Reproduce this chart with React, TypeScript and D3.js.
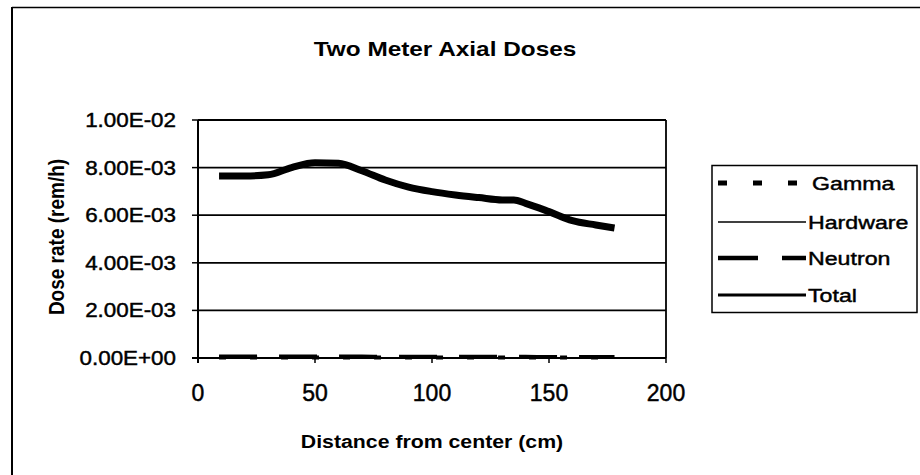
import React from "react";
import * as d3 from "d3";

const distances = [9, 20, 30, 40, 50, 60, 70, 80, 90, 100, 110, 120, 130, 135, 140, 150, 160, 170, 178];
const totalDose = [7.65e-3, 7.65e-3, 7.7e-3, 8.0e-3, 8.2e-3, 8.18e-3, 7.87e-3, 7.48e-3, 7.18e-3, 6.99e-3, 6.85e-3, 6.74e-3, 6.64e-3, 6.64e-3, 6.5e-3, 6.15e-3, 5.77e-3, 5.59e-3, 5.46e-3];
const neutronDose = [6e-5, 6e-5, 6e-5, 6e-5, 6e-5, 6e-5, 6e-5, 5e-5, 5e-5, 5e-5, 5e-5, 5e-5, 5e-5, 5e-5, 5e-5, 4e-5, 4e-5, 4e-5, 4e-5];
const gammaDose = [2e-5, 2e-5, 2e-5, 2e-5, 2e-5, 2e-5, 2e-5, 2e-5, 2e-5, 2e-5, 2e-5, 2e-5, 2e-5, 2e-5, 2e-5, 2e-5, 2e-5, 2e-5, 2e-5];
const hardwareDose = [1e-5, 1e-5, 1e-5, 1e-5, 1e-5, 1e-5, 1e-5, 1e-5, 1e-5, 1e-5, 1e-5, 1e-5, 1e-5, 1e-5, 1e-5, 1e-5, 1e-5, 1e-5, 1e-5];
const xTicks = [0, 50, 100, 150, 200];
const yTicks = [0, 2e-3, 4e-3, 6e-3, 8e-3, 1e-2];
const yTickLabels = ["0.00E+00", "2.00E-03", "4.00E-03", "6.00E-03", "8.00E-03", "1.00E-02"];
const seriesNames = ["Gamma", "Hardware", "Neutron", "Total"];

const FONT = "'Liberation Sans', Arial, sans-serif";

export default function App() {
  const left = 198, right = 666, top = 120, bottom = 358;
  const x = d3.scaleLinear().domain([0, 200]).range([left, right]);
  const y = d3.scaleLinear().domain([0, 1e-2]).range([bottom, top]);
  const line = d3.line<number>().x((_, i) => x(distances[i])).y((d) => y(d)).curve(d3.curveMonotoneX);

  const series = [
    { name: seriesNames[0], data: gammaDose, width: 4, dash: "7 24" },
    { name: seriesNames[1], data: hardwareDose, width: 1.5, dash: "" },
    { name: seriesNames[2], data: neutronDose, width: 4, dash: "38 22" },
    { name: seriesNames[3], data: totalDose, width: 7, dash: "" },
  ];

  const legendY = [183, 222, 258, 295];
  const legendStyle = [
    { width: 5, dash: "9 26" },
    { width: 1.5, dash: "" },
    { width: 4.5, dash: "40 24" },
    { width: 3, dash: "" },
  ];

  const sx = (tx: number, ty: number, s: number) => `translate(${tx},${ty}) scale(${s},1)`;
  const heavy = { stroke: "#000", strokeWidth: 0.45 };

  return (
    <svg width={920} height={475} style={{ position: "absolute", left: 0, top: 0, background: "#fff" }} fontFamily={FONT}>
      <rect x={0} y={0} width={920} height={475} fill="#fff" />
      {/* outer frame */}
      <line x1={12} y1={7.5} x2={920} y2={7.5} stroke="#000" strokeWidth={1.5} />
      <line x1={12} y1={7} x2={12} y2={475} stroke="#000" strokeWidth={2} />

      {/* title */}
      <text transform={sx(445, 56, 1.16)} textAnchor="middle" fontWeight="bold" fontSize={21}>Two Meter Axial Doses</text>

      {/* grid lines */}
      {yTicks.slice(1).map((t) => (
        <line key={t} x1={left} x2={right} y1={y(t)} y2={y(t)} stroke="#000" strokeWidth={1.8} />
      ))}
      <line x1={right} x2={right} y1={top} y2={bottom} stroke="#000" strokeWidth={1.8} />
      {/* axes */}
      <line x1={left} x2={left} y1={top} y2={bottom + 5} stroke="#000" strokeWidth={2} />
      <line x1={left - 6} x2={right} y1={bottom} y2={bottom} stroke="#000" strokeWidth={2} />
      {yTicks.map((t, i) => (
        <g key={"yt" + t}>
          <line x1={left - 6} x2={left} y1={y(t)} y2={y(t)} stroke="#000" strokeWidth={1.5} />
          <text transform={sx(176, y(t) + 7, 1.12)} textAnchor="end" fontSize={20} {...heavy}>{yTickLabels[i]}</text>
        </g>
      ))}
      {xTicks.map((t) => (
        <g key={"xt" + t}>
          <line x1={x(t)} x2={x(t)} y1={bottom} y2={bottom + 5} stroke="#000" strokeWidth={1.5} />
          <text x={x(t)} y={bottom + 43} textAnchor="middle" fontSize={23} {...heavy}>{t}</text>
        </g>
      ))}

      {/* axis titles */}
      <text transform={sx(432, 448, 1.12)} textAnchor="middle" fontWeight="bold" fontSize={19}>Distance from center (cm)</text>
      <text transform={`translate(64,237) rotate(-90) scale(1,1.15)`} textAnchor="middle" fontWeight="bold" fontSize={19}>Dose rate (rem/h)</text>

      {/* series */}
      {series.map((s) => (
        <path key={s.name} d={line(s.data) || ""} fill="none" stroke="#000" strokeWidth={s.width} strokeDasharray={s.dash} />
      ))}

      {/* legend */}
      <rect x={712} y={165.5} width={205} height={147} fill="#fff" stroke="#000" strokeWidth={1.5} />
      {seriesNames.map((n, i) => (
        <g key={"lg" + n}>
          <line x1={718} x2={806} y1={legendY[i]} y2={legendY[i]} stroke="#000" strokeWidth={legendStyle[i].width} strokeDasharray={legendStyle[i].dash} />
          <text transform={sx(i === 0 ? 812 : 808, legendY[i] + 7, 1.22)} fontSize={19} {...heavy}>{n}</text>
        </g>
      ))}
    </svg>
  );
}
